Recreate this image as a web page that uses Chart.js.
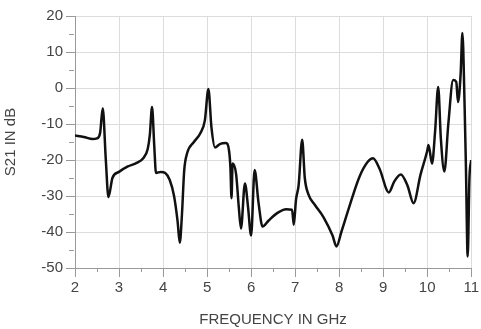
<!DOCTYPE html>
<html>
<head>
<meta charset="utf-8">
<script src="https://cdn.jsdelivr.net/npm/chart.js@4"></script>
<style>
  html, body { margin: 0; padding: 0; background: #fff; }
  #wrap { width: 481px; height: 329px; }
</style>
</head>
<body>
<div id="wrap"><canvas id="s21Chart"></canvas></div>
<script>
// frequency points (GHz) and S21 (dB)
const freqGHz = [
  2.00, 2.20, 2.40, 2.50, 2.57, 2.63, 2.70, 2.76, 2.85, 3.00,
  3.20, 3.40, 3.55, 3.65, 3.70, 3.75, 3.80, 3.84, 3.95, 4.05,
  4.15, 4.25, 4.33, 4.38, 4.43, 4.48, 4.55, 4.70, 4.85, 4.95,
  5.03, 5.10, 5.18, 5.30, 5.43, 5.50, 5.53, 5.555, 5.58, 5.66,
  5.72, 5.77, 5.86, 5.93, 6.00, 6.08, 6.17, 6.26, 6.40, 6.60,
  6.80, 6.93, 6.97, 7.02, 7.08, 7.16, 7.22, 7.30, 7.45, 7.65,
  7.85, 7.94, 8.05, 8.23, 8.46, 8.65, 8.77, 8.92, 9.13, 9.25,
  9.40, 9.55, 9.69, 9.85, 10.00, 10.03, 10.11, 10.18, 10.25, 10.31,
  10.39, 10.48, 10.59, 10.66, 10.70, 10.76, 10.80, 10.85, 10.88, 10.92,
  10.96, 11.00
];
const s21dB = [
  -13.2, -13.6, -14.2, -14.0, -12.5, -5.6, -20, -30.3, -25, -23.3,
  -21.8, -20.8, -19.5, -17, -13, -5.3, -16, -23.6, -23.3, -23.6,
  -25.5, -30, -37, -43, -35, -23, -18, -15, -12.5, -9,
  -0.3, -11, -16.5, -15.5, -15.3, -17.5, -22, -30.6, -21, -24,
  -33, -39, -26.5, -33, -41, -22.8, -32, -38.5, -36.8, -34.7,
  -33.7, -33.8, -38, -31, -27, -14.4, -25, -29.5, -32.5, -36,
  -41, -44, -40, -33, -24.7, -20.5, -19.5, -22.5, -29, -26,
  -24, -27, -32, -24, -17.5, -15.8, -21, -12, 0.3, -14,
  -23.2, -10, 2.2, 1.7, -3.9, 4, 15.3, -5, -22, -46.8,
  -25, -20
];
const xTicks = [2, 3, 4, 5, 6, 7, 8, 9, 10, 11];
const yTicks = [-50, -40, -30, -20, -10, 0, 10, 20];

const points = freqGHz.map((f, i) => ({ x: f, y: s21dB[i] }));

// short minor ticks halfway between the labelled ones
const minorTicks = {
  id: 'minorTicks',
  afterDraw(chart) {
    const { ctx, scales: { x, y } } = chart;
    ctx.save();
    ctx.strokeStyle = '#999';
    ctx.lineWidth = 1;
    for (let i = 0; i < xTicks.length - 1; i++) {
      const px = Math.round(x.getPixelForValue(xTicks[i] + 0.5)) + 0.5;
      ctx.beginPath();
      ctx.moveTo(px, y.bottom);
      ctx.lineTo(px, y.bottom + 4);
      ctx.stroke();
    }
    for (let i = 0; i < yTicks.length - 1; i++) {
      const py = Math.round(y.getPixelForValue(yTicks[i] + 5)) + 0.5;
      ctx.beginPath();
      ctx.moveTo(x.left - 6, py);
      ctx.lineTo(x.left - 1, py);
      ctx.stroke();
    }
    ctx.restore();
  }
};

const ctx = document.getElementById('s21Chart').getContext('2d');
new Chart(ctx, {
  type: 'line',
  data: {
    datasets: [{
      label: 'S21',
      data: points,
      borderColor: '#111',
      borderWidth: 2.5,
      pointRadius: 0,
      fill: false,
      cubicInterpolationMode: 'monotone'
    }]
  },
  options: {
    responsive: true,
    maintainAspectRatio: false,
    animation: false,
    layout: { padding: { top: 16, right: 5, left: 0, bottom: 0 } },
    plugins: {
      legend: { display: false },
      tooltip: { enabled: false }
    },
    scales: {
      x: {
        type: 'linear',
        min: 2,
        max: 11,
        afterFit: s => { s.height = 61; },
        afterBuildTicks: s => { s.ticks = xTicks.map(v => ({ value: v })); },
        grid: { color: '#dcdcdc', tickColor: '#999', tickLength: 9 },
        border: { color: '#999' },
        ticks: {
          color: '#444',
          font: { family: 'Liberation Sans', size: 15 },
          padding: 2,
          maxRotation: 0
        },
        title: {
          display: true,
          text: 'FREQUENCY IN GHz',
          color: '#444',
          font: { family: 'Liberation Sans', size: 15 },
          padding: { top: 2, bottom: 0 }
        }
      },
      y: {
        min: -50,
        max: 20,
        afterFit: s => { s.width = 75; },
        afterBuildTicks: s => { s.ticks = yTicks.map(v => ({ value: v })); },
        grid: { color: '#dcdcdc', tickColor: '#999', tickLength: 9 },
        border: { color: '#999' },
        ticks: {
          color: '#444',
          font: { family: 'Liberation Sans', size: 15 },
          padding: 3
        },
        title: {
          display: true,
          text: 'S21 IN dB',
          color: '#444',
          font: { family: 'Liberation Sans', size: 15 },
          padding: { top: 2, bottom: 2 }
        }
      }
    }
  },
  plugins: [minorTicks]
});
</script>
</body>
</html>
